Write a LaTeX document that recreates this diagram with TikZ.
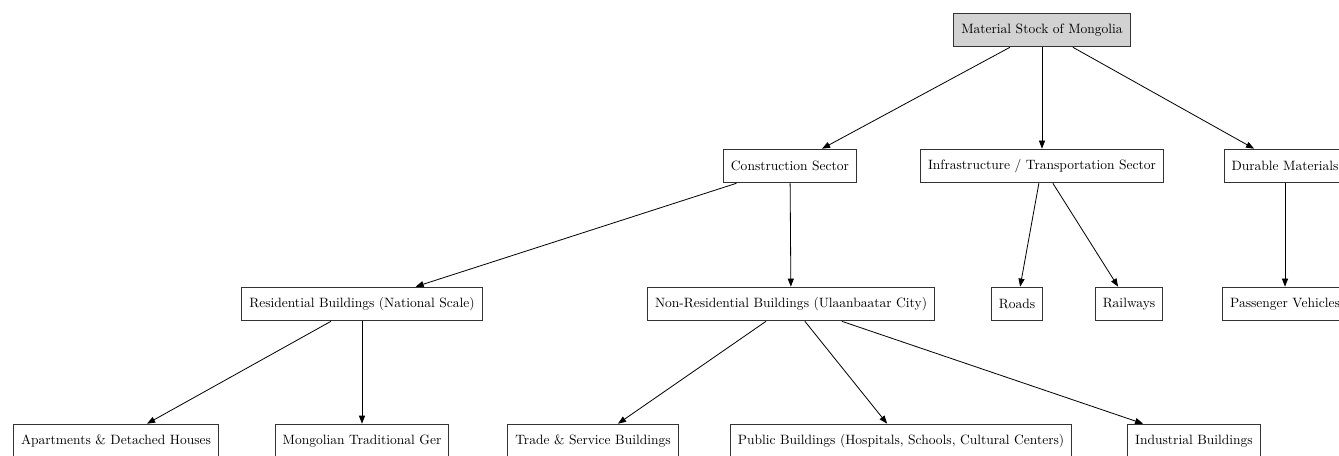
\documentclass[tikz,border=0pt]{standalone}
\usepackage{tikz}
\usetikzlibrary{arrows.meta, positioning}

\begin{document}
\begin{tikzpicture}[->,>={Triangle[length=6pt,width=4.5pt]},x=0.74pt,y=-0.74pt,line width=0.6pt,
    box/.style={draw=black!80, rectangle, minimum height=25pt, inner xsep=5.5pt}]
      \useasboundingbox (0,0) rectangle (1339,456);
      \node[box, fill=gray!35] (root) at (1042,30) {Material Stock of Mongolia};

      \node[box] (cons) at (790,166) {Construction Sector};
      \node[box] (infra) at (1042,166) {Infrastructure / Transportation Sector};
      \node[box] (dur) at (1285,166) {Durable Materials};

      \node[box] (res) at (362,304) {Residential Buildings (National Scale)};
      \node[box] (nonres) at (791,304) {Non-Residential Buildings (Ulaanbaatar City)};
      \node[box] (roads) at (1017,304) {Roads};
      \node[box] (rail) at (1129,304) {Railways};
      \node[box] (pass) at (1285,304) {Passenger Vehicles};

      \node[box] (apt) at (116,441) {Apartments \& Detached Houses};
      \node[box] (ger) at (362,441) {Mongolian Traditional Ger};
      \node[box] (trade) at (593,441) {Trade \& Service Buildings};
      \node[box] (public) at (901,441) {Public Buildings (Hospitals, Schools, Cultural Centers)};
      \node[box] (ind) at (1194,441) {Industrial Buildings};

      \path (root) edge (cons)
            (root) edge (infra)
            (root) edge (dur)
            (cons) edge (res)
            (cons) edge (nonres)
            (infra) edge (roads)
            (infra) edge (rail)
            (dur) edge (pass)
            (res) edge (apt)
            (res) edge (ger)
            (nonres) edge (trade)
            (nonres) edge (public)
            (nonres) edge (ind)
            ;
    \end{tikzpicture}
\end{document}
